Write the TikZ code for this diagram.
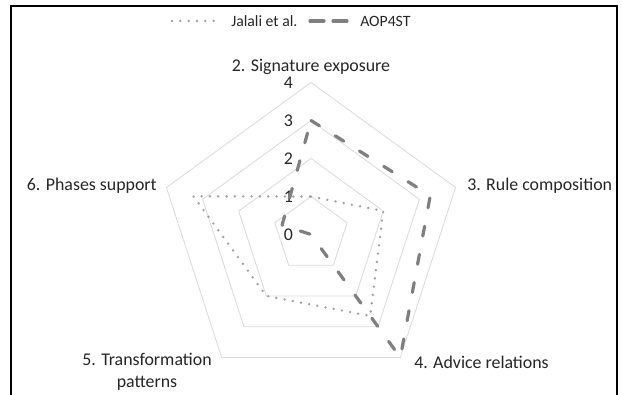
\documentclass[tikz,border=0pt]{standalone}
\usepackage{fontspec}
\setmainfont{Carlito}
\definecolor{gridgray}{HTML}{D9D9D9}
\definecolor{dotgray}{HTML}{A0A0A0}
\definecolor{dashgray}{HTML}{7F7F7F}
\begin{document}
\begin{tikzpicture}[x=0.75pt,y=0.75pt,
  grid/.style={draw=gridgray, line width=0.6pt},
  jal/.style={draw=dotgray, line width=2pt, line cap=round, line join=round, dash pattern=on 0pt off 6.25pt},
  aop/.style={draw=dashgray, line width=2.4pt, line cap=round, line join=round, dash pattern=on 7.5pt off 14pt},
  aopleg/.style={draw=dashgray, line width=2.4pt, line cap=round},
  lbl/.style={font=\fontsize{13.4}{16.5}\selectfont, inner sep=0pt, text=black!85},
  leglbl/.style={font=\fontsize{11.8}{14}\selectfont, inner sep=0pt, text=black!85},
]
\useasboundingbox (0,0) rectangle (622,395);
\draw[line width=1.5pt] (11,0) -- (11,389) -- (616.5,389) -- (616.5,0);

% legend
\coordinate (l1s) at (172,374);
\coordinate (l1e) at (216,374);
\draw[jal] (l1s) -- (l1e);
\node[leglbl, anchor=west] (ljal) at (231,374) {Jalali et al.};
\coordinate (l2a) at (310,374);
\coordinate (l2b) at (324,374);
\coordinate (l2c) at (333,374);
\coordinate (l2d) at (347,374);
\draw[aopleg] (l2a) -- (l2b);
\draw[aopleg] (l2c) -- (l2d);
\node[leglbl, anchor=west] (laop) at (360,374) {AOP4ST};

\begin{scope}[shift={(311,160.5)}]
  \coordinate (C) at (0,0);
  \foreach \k in {1,...,4}{
    \draw[grid] (90:{38*\k}) -- (18:{38*\k}) -- (-54:{38*\k}) -- (-126:{38*\k}) -- (162:{38*\k}) -- cycle;
  }
  % value labels
  \foreach \k in {0,...,4}{
    \node[lbl] (v\k) at (-22.5,{38*\k}) {\k};
  }
  % Jalali et al.
  \coordinate (j2) at (90:38);
  \coordinate (j3) at (18:76);
  \coordinate (j4) at (-54:{38*2.65});
  \coordinate (j5) at (-126:76);
  \coordinate (j6) at (162:{38*3.25});
  \draw[jal] (j2) -- (j3) -- (j4) -- (j5) -- (j6) -- cycle;
  % AOP4ST
  \coordinate (a2) at (90:114);
  \coordinate (a3) at (18:{38*3.3});
  \coordinate (a4) at (-54:152);
  \coordinate (a5) at (C);
  \coordinate (a6) at (162:{38*0.8});
  \draw[aop] (a2) -- (a3) -- (a4) -- (a5) -- (a6) -- cycle;
\end{scope}

% axis labels
\node[lbl] (t2) at (311,328) {2. Signature exposure};
\node[lbl, anchor=west] (t3) at (467,209) {3. Rule composition};
\node[lbl, anchor=west] (t4) at (414,33) {4. Advice relations};
\node[lbl, align=center] (t5) at (147,23.5) {5. Transformation\\patterns};
\node[lbl, anchor=east] (t6) at (157,209) {6. Phases support};
\end{tikzpicture}
\end{document}
